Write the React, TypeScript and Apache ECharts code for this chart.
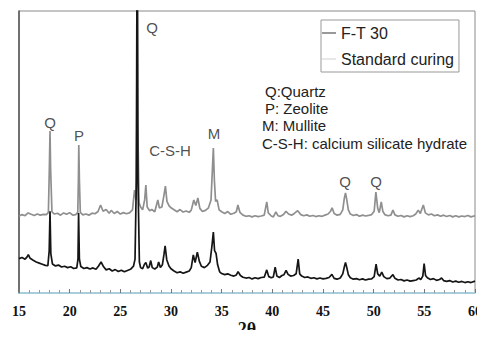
import React, { useEffect, useRef } from "react";
import * as echarts from "echarts";

// 2θ ticks
const xTicks = [15, 20, 25, 30, 35, 40, 45, 50, 55, 60];

// Standard curing (upper, gray trace) [2θ, intensity]
const standardCuring: [number, number][] = [
  [15.0, 27.3], [15.3, 27.8], [15.6, 27.4], [15.9, 28.4], [16.2, 27.9], [16.5, 27.5], [16.8, 28.0], [17.1, 27.6], [17.4, 27.9], [17.7, 27.8],
  [17.9, 28.6], [18.0, 45], [18.06, 57.4], [18.12, 44], [18.25, 28.8], [18.5, 28.0], [18.8, 28.3], [19.1, 27.6], [19.4, 28.4], [19.7, 27.9],
  [20.0, 28.5], [20.3, 27.6], [20.6, 27.8], [20.8, 28.6], [20.86, 40], [20.9, 52.5], [20.96, 40], [21.05, 28.6], [21.3, 27.7], [21.6, 28.0],
  [21.9, 27.6], [22.2, 28.3], [22.5, 28.1], [22.8, 28.9], [23.05, 31.2], [23.3, 29.0], [23.6, 29.6], [23.9, 28.3], [24.1, 29.3], [24.4, 28.2],
  [24.7, 28.9], [25.0, 28.0], [25.3, 28.5], [25.6, 28.1], [25.9, 28.4], [26.2, 29.5], [26.4, 36.5], [26.55, 33], [26.62, 60], [26.67, 140],
  [26.72, 60], [26.85, 32], [27.0, 30.5], [27.2, 29.5], [27.4, 33], [27.52, 38.3], [27.65, 30.5], [27.9, 29.2], [28.1, 29.6], [28.4, 28.8],
  [28.7, 33.0], [28.85, 30.2], [29.1, 30.5], [29.3, 34.5], [29.45, 37.9], [29.6, 32.5], [29.8, 31.0], [30.0, 30.2], [30.3, 29.5], [30.6, 28.8],
  [30.9, 29.6], [31.2, 28.7], [31.5, 29.1], [31.8, 28.6], [32.0, 29.4], [32.25, 33.0], [32.45, 31.0], [32.65, 33.7], [32.85, 30.0], [33.1, 28.9],
  [33.4, 29.3], [33.7, 30.2], [33.95, 33], [34.1, 45], [34.18, 51.4], [34.28, 40], [34.4, 32.5], [34.55, 33], [34.75, 29.5], [35.0, 28.8],
  [35.3, 28.2], [35.6, 28.9], [35.9, 27.9], [36.2, 28.3], [36.45, 28.8], [36.6, 31.2], [36.8, 28.6], [37.1, 27.6], [37.4, 27.2], [37.7, 27.4],
  [38.0, 27.0], [38.3, 27.4], [38.6, 27.1], [38.9, 27.3], [39.2, 27.6], [39.45, 32.3], [39.6, 28.4], [39.9, 27.3], [40.1, 27.0], [40.35, 28.8],
  [40.55, 27.4], [40.8, 27.2], [41.1, 27.8], [41.35, 29.0], [41.6, 28.0], [41.9, 27.6], [42.2, 28.3], [42.5, 29.2], [42.8, 27.8], [43.1, 27.4],
  [43.4, 27.7], [43.7, 27.2], [44.0, 27.5], [44.3, 27.1], [44.6, 27.4], [44.9, 27.2], [45.2, 27.6], [45.5, 28.0], [45.75, 29.0], [45.9, 30.2],
  [46.1, 28.2], [46.4, 27.6], [46.7, 27.9], [46.95, 29.5], [47.1, 33.5], [47.22, 35.5], [47.35, 33], [47.5, 29.5], [47.7, 28.0], [48.0, 27.5],
  [48.3, 27.8], [48.6, 27.2], [48.9, 27.6], [49.2, 27.3], [49.5, 27.5], [49.8, 27.8], [50.05, 29.0], [50.22, 35.8], [50.4, 30.0], [50.55, 28.5],
  [50.75, 32.3], [50.9, 29.0], [51.1, 27.8], [51.4, 27.4], [51.7, 27.6], [51.9, 29.4], [52.1, 27.7], [52.4, 27.2], [52.7, 27.5], [53.0, 27.0],
  [53.3, 27.4], [53.6, 27.1], [53.9, 27.4], [54.15, 28], [54.4, 29.4], [54.6, 28.2], [54.9, 31.2], [55.1, 28.4], [55.4, 27.7], [55.7, 28.0],
  [56.0, 27.4], [56.3, 27.7], [56.6, 27.2], [56.9, 27.6], [57.2, 27.1], [57.5, 27.5], [57.8, 27.0], [58.1, 27.4], [58.4, 27.0], [58.7, 27.3],
  [59.0, 27.1], [59.3, 27.5], [59.6, 27.0], [60.0, 27.4],
];

// F-T 30 (lower, black trace) [2θ, intensity]
const ft30: [number, number][] = [
  [15.0, 12.2], [15.3, 12.6], [15.6, 12.0], [15.8, 12.8], [15.92, 13.6], [16.1, 12.3], [16.4, 11.6], [16.7, 11.0], [17.0, 10.6], [17.3, 10.2],
  [17.6, 9.8], [17.85, 9.7], [17.98, 15], [18.06, 29], [18.14, 14], [18.3, 10.3], [18.6, 9.6], [18.9, 9.9], [19.2, 9.2], [19.5, 9.5],
  [19.8, 9.0], [20.1, 9.3], [20.4, 8.7], [20.7, 8.9], [20.82, 12], [20.88, 28.4], [20.96, 12], [21.1, 9.4], [21.4, 8.7], [21.7, 9.0],
  [22.0, 8.5], [22.3, 8.9], [22.6, 8.4], [22.85, 9.6], [23.1, 11.0], [23.35, 9.3], [23.6, 8.2], [23.9, 8.6], [24.2, 7.8], [24.5, 8.3],
  [24.8, 7.6], [25.1, 8.1], [25.4, 7.5], [25.7, 8.0], [26.0, 8.4], [26.3, 9.5], [26.45, 12], [26.58, 40], [26.66, 135], [26.74, 40],
  [26.88, 11], [27.0, 9.0], [27.2, 8.6], [27.38, 10.2], [27.52, 10.8], [27.7, 8.8], [27.85, 9.3], [28.0, 11.5], [28.15, 9.0], [28.4, 8.5],
  [28.65, 9.2], [28.78, 11.0], [28.95, 9.0], [29.15, 10.0], [29.3, 13.5], [29.42, 16.7], [29.58, 11.8], [29.8, 9.6], [30.0, 8.6], [30.3, 7.8],
  [30.6, 7.2], [30.9, 7.5], [31.2, 7.0], [31.5, 7.4], [31.8, 7.8], [32.0, 9.0], [32.2, 13.5], [32.38, 10.8], [32.6, 14.5], [32.8, 11.2],
  [33.0, 9.5], [33.3, 9.0], [33.6, 9.8], [33.85, 11], [34.05, 17], [34.18, 21.6], [34.3, 15], [34.45, 14.0], [34.6, 10], [34.8, 7.5],
  [35.0, 6.9], [35.3, 6.5], [35.6, 6.8], [35.9, 6.3], [36.2, 6.0], [36.45, 6.4], [36.62, 7.6], [36.85, 6.2], [37.1, 5.6], [37.4, 5.3],
  [37.7, 5.5], [38.0, 5.0], [38.3, 5.4], [38.6, 5.1], [38.9, 5.5], [39.2, 5.6], [39.45, 8.2], [39.65, 5.8], [39.9, 5.4], [40.1, 5.7],
  [40.28, 9.2], [40.45, 6.0], [40.7, 5.5], [40.95, 6.2], [41.15, 6.5], [41.36, 8.0], [41.55, 6.6], [41.8, 6.0], [42.1, 6.2], [42.35, 6.8],
  [42.55, 12.0], [42.7, 6.8], [42.9, 6.0], [43.2, 5.5], [43.5, 5.7], [43.8, 5.2], [44.1, 5.4], [44.4, 5.0], [44.7, 5.3], [45.0, 5.0],
  [45.3, 5.2], [45.6, 5.5], [45.88, 6.6], [46.1, 5.2], [46.4, 4.9], [46.7, 5.3], [46.95, 6.8], [47.12, 9.5], [47.22, 10.8], [47.35, 9.0],
  [47.5, 6.5], [47.7, 5.4], [48.0, 4.9], [48.3, 5.1], [48.6, 4.7], [48.9, 5.0], [49.2, 4.6], [49.5, 4.9], [49.8, 5.0], [50.05, 5.8],
  [50.24, 10.2], [50.4, 6.8], [50.6, 6.0], [50.8, 7.4], [51.0, 5.8], [51.3, 5.1], [51.6, 5.3], [51.9, 6.5], [52.1, 5.2], [52.4, 4.6],
  [52.7, 4.8], [53.0, 4.3], [53.3, 4.6], [53.6, 4.2], [53.9, 4.4], [54.2, 4.6], [54.45, 5.3], [54.65, 4.8], [54.85, 6.0], [54.98, 10.4],
  [55.12, 6.2], [55.3, 5.4], [55.6, 4.8], [55.9, 5.1], [56.2, 4.5], [56.5, 4.8], [56.7, 5.3], [56.9, 4.4], [57.2, 4.1], [57.5, 4.4],
  [57.8, 3.9], [58.1, 4.2], [58.4, 3.8], [58.7, 4.1], [59.0, 3.7], [59.3, 4.0], [59.6, 3.7], [60.0, 4.2],
];

// Peak annotations [2θ, y, text]
const peakLabels: [number, number, string][] = [
  [28.13, 94.3, "Q"],
  [18.06, 60.6, "Q"],
  [20.92, 55.7, "P"],
  [29.9, 50.4, "C-S-H"],
  [34.25, 56.4, "M"],
  [47.18, 39.7, "Q"],
  [50.24, 39.7, "Q"],
];

const keyLines = ["Q:Quartz", "P: Zeolite", "M: Mullite", "C-S-H: calcium silicate hydrate"];

const seriesNames = ["F-T 30", "Standard curing"];

export default function App() {
  const ref = useRef<HTMLDivElement>(null);
  useEffect(() => {
    if (!ref.current) return;
    const chart = echarts.init(ref.current, null, { renderer: "svg" });
    const sans = "Liberation Sans, Arial, sans-serif";
    const keyX = [265, 265, 262, 262];
    const keyY = [84, 101, 118, 136];
    chart.setOption({
      animation: false,
      grid: {
        left: 19, right: 10, top: 11, bottom: 45,
        show: true, borderColor: "#8a8a8a", borderWidth: 1,
        outerBoundsMode: "none", containLabel: false,
      },
      legend: {
        orient: "vertical",
        left: 321,
        top: 20,
        padding: [4, 5, 4, 1],
        itemGap: 8,
        itemWidth: 14,
        itemHeight: 1,
        icon: "rect",
        borderColor: "#999",
        borderWidth: 1,
        textStyle: { fontSize: 16, fontFamily: sans, color: "#222", lineHeight: 18 },
        data: [
          { name: seriesNames[0], itemStyle: { color: "#333" } },
          { name: seriesNames[1], itemStyle: { color: "#cfcfcf" } },
        ],
      },
      xAxis: {
        type: "value",
        min: xTicks[0],
        max: xTicks[xTicks.length - 1],
        interval: 5,
        z: 5,
        name: "2θ",
        nameLocation: "middle",
        nameGap: 27,
        nameMoveOverlap: false,
        nameTextStyle: { fontFamily: "Liberation Serif, Times New Roman, serif", fontWeight: "bold", fontSize: 18, color: "#111" },
        axisLine: { show: true, lineStyle: { color: "#9fd0e2", width: 1.5 } },
        axisTick: { show: true, inside: true, length: 4, lineStyle: { color: "#777" } },
        minorTick: { show: true, splitNumber: 5, length: 3, lineStyle: { color: "#999" } },
        splitLine: { show: false },
        axisLabel: { margin: 11, fontFamily: "Liberation Serif, Times New Roman, serif", fontWeight: "bold", fontSize: 14, color: "#111" },
      },
      yAxis: {
        type: "value",
        min: 0,
        max: 100,
        axisLine: { show: true, lineStyle: { color: "#555", width: 1.5 } },
        axisTick: { show: false },
        axisLabel: { show: false },
        splitLine: { show: false },
      },
      graphic: keyLines.map((t, i) => ({
        type: "text",
        left: keyX[i],
        top: keyY[i],
        style: { text: t, fontSize: 15, fontFamily: sans, fill: "#222" },
      })),
      series: [
        {
          name: seriesNames[1],
          type: "line",
          data: standardCuring,
          showSymbol: false,
          clip: true,
          lineStyle: { color: "#8f8f8f", width: 1.7 },
          itemStyle: { color: "#8f8f8f" },
          z: 2,
        },
        {
          name: seriesNames[0],
          type: "line",
          data: ft30,
          showSymbol: false,
          clip: true,
          lineStyle: { color: "#151515", width: 1.7 },
          itemStyle: { color: "#151515" },
          z: 3,
        },
        {
          name: "labels",
          type: "scatter",
          data: peakLabels.map((p) => ({ value: [p[0], p[1]], name: p[2] })),
          symbolSize: 1,
          itemStyle: { color: "transparent" },
          silent: true,
          label: {
            show: true,
            position: "inside",
            formatter: (p: any) => p.name,
            fontSize: 15,
            fontFamily: sans,
            color: "#222",
          },
          z: 4,
        },
      ],
    });
    return () => chart.dispose();
  }, []);
  return <div ref={ref} style={{ width: 485, height: 338, margin: -8 }} />;
}
